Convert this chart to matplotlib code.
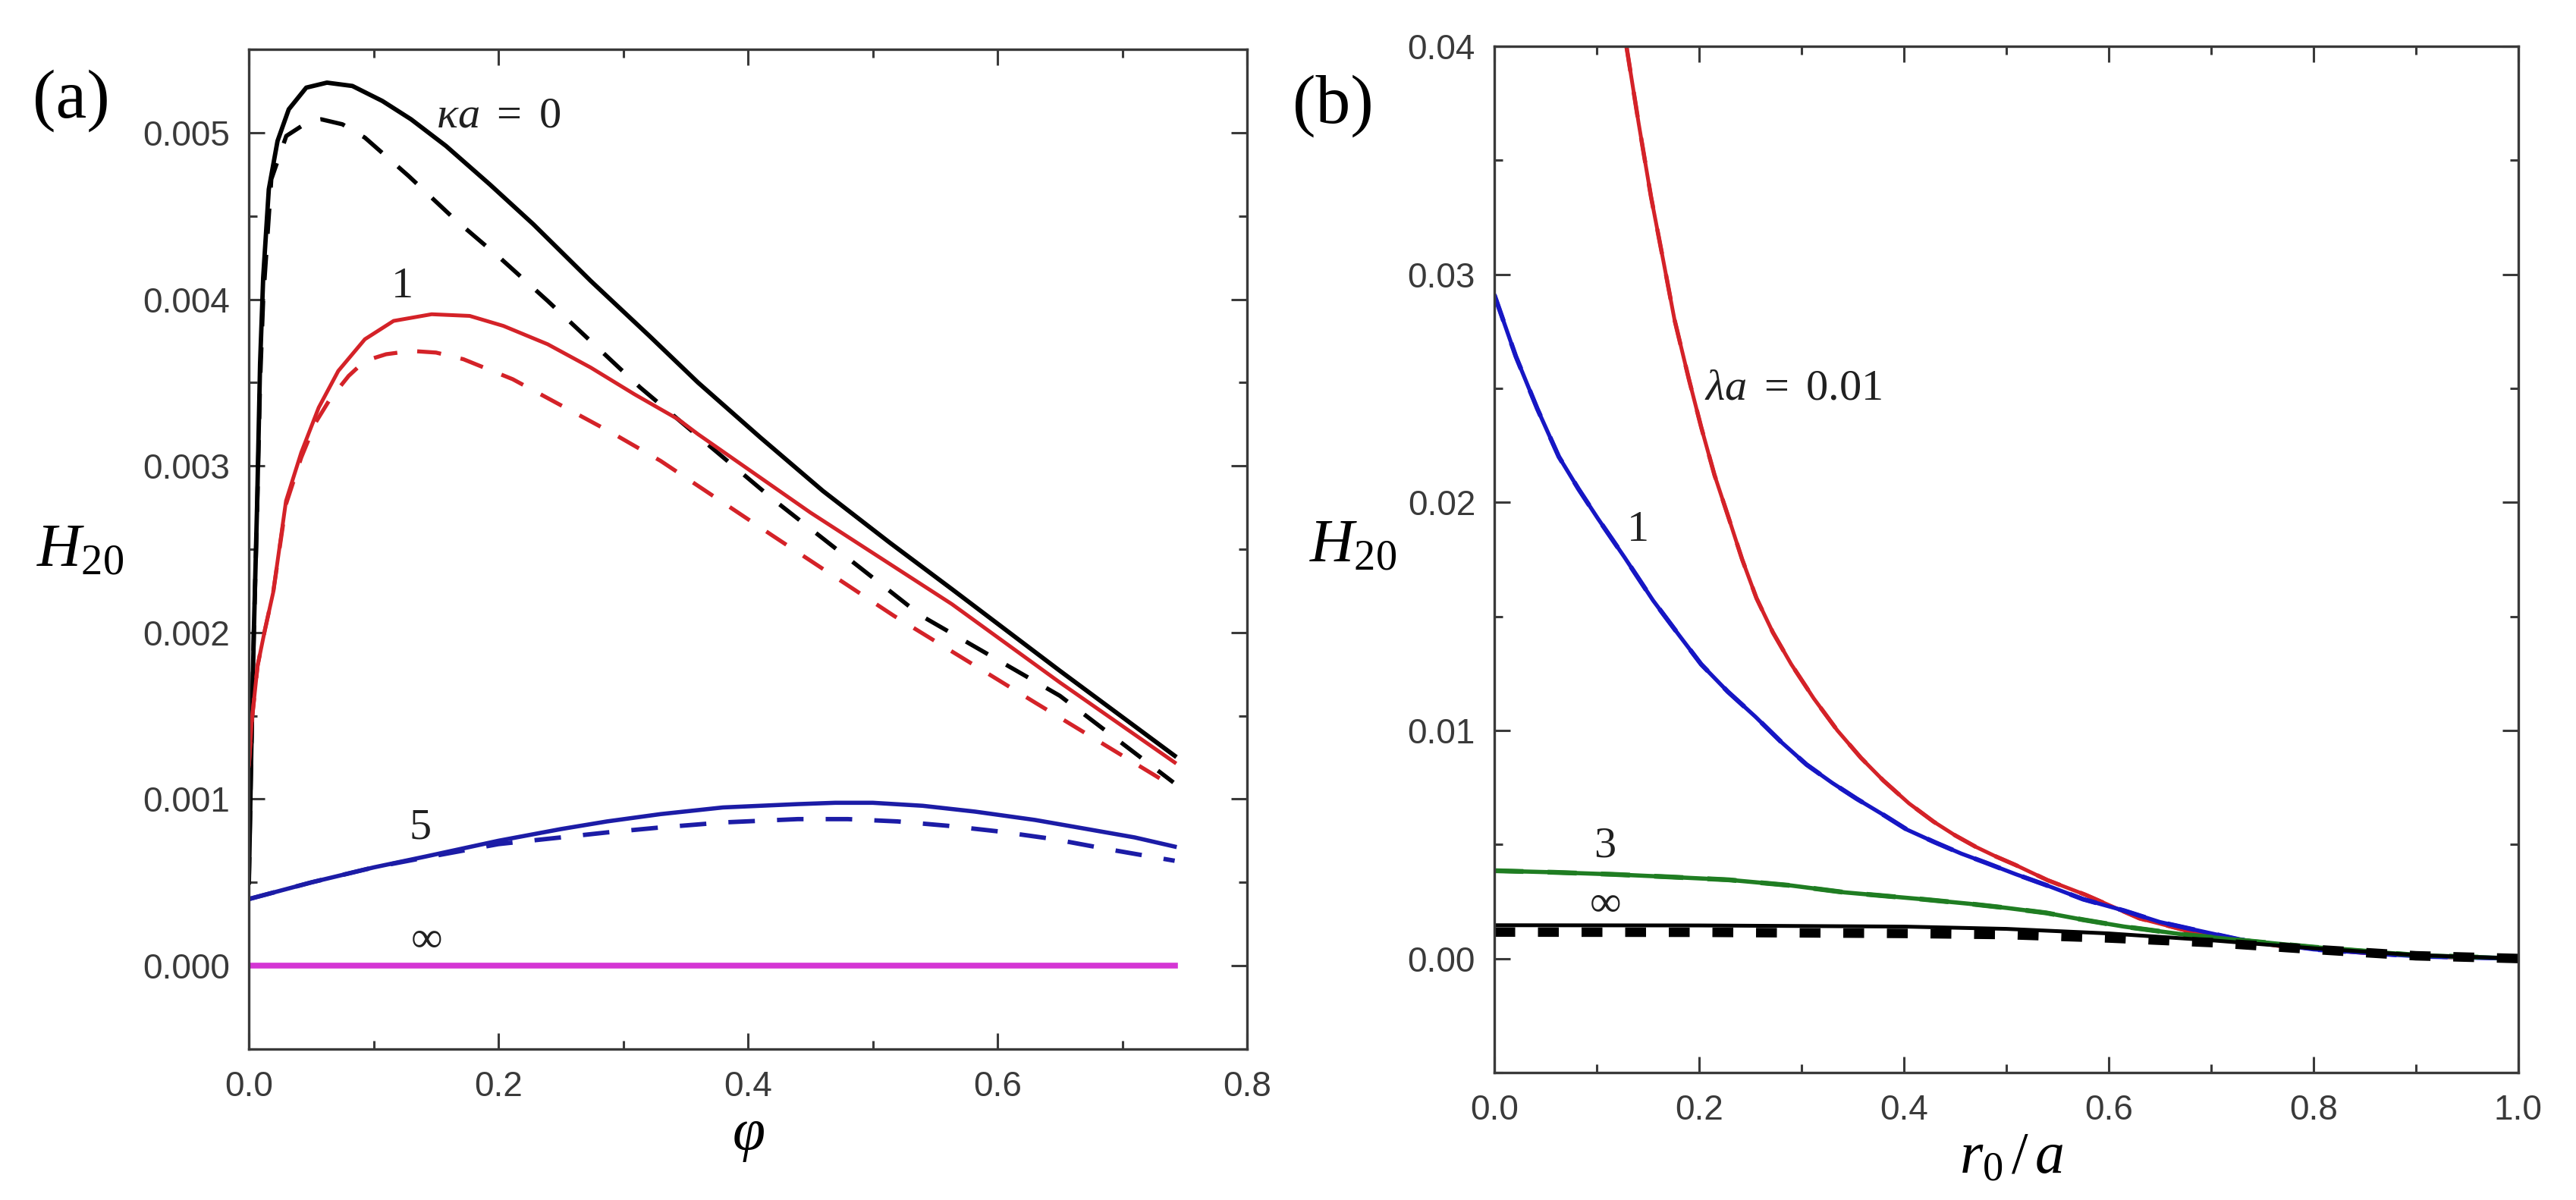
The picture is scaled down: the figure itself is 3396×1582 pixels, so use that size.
"""Two panels of H20: against volume fraction (a) and against r0/a (b)."""

import matplotlib

matplotlib.use("Agg")
import matplotlib.pyplot as plt
from matplotlib.ticker import FormatStrFormatter, MultipleLocator

plt.rcParams["font.family"] = ["Liberation Sans", "DejaVu Sans"]
plt.rcParams["mathtext.fontset"] = "custom"
plt.rcParams["mathtext.rm"] = "Liberation Serif"
plt.rcParams["mathtext.it"] = "Liberation Serif:italic"

# ---- panel (a): H20 vs phi, solid and dashed per kappa*a ----
PHI_K0 = [0, 0.002, 0.004, 0.0067, 0.009, 0.0115, 0.016, 0.023, 0.032, 0.046,
          0.0626, 0.083, 0.107, 0.13, 0.158, 0.193, 0.228, 0.274, 0.321, 0.36,
          0.41, 0.46, 0.5135, 0.5635, 0.65, 0.742]
H_K0 = [0.0005, 0.0013, 0.002, 0.00279, 0.00361, 0.00413, 0.00466, 0.00495,
        0.00514, 0.00527, 0.0053, 0.00528, 0.00519, 0.00508, 0.00492, 0.00469,
        0.00445, 0.00411, 0.00378, 0.0035, 0.00317, 0.00285, 0.00254, 0.00226,
        0.00177, 0.00126]
PHI_K0_D = [0, 0.002, 0.004, 0.0067, 0.009, 0.0115, 0.018, 0.03, 0.0486, 0.058,
            0.075, 0.093, 0.128, 0.165, 0.2025, 0.2395, 0.2766, 0.3137, 0.42,
            0.539, 0.65, 0.741]
H_K0_D = [0.0005, 0.0013, 0.002, 0.00275, 0.0035, 0.004, 0.00472, 0.00498,
          0.00507, 0.00508, 0.00505, 0.00497, 0.00474, 0.00448, 0.00424, 0.00399,
          0.00373, 0.00347, 0.0028, 0.0021, 0.00162, 0.0011]

PHI_K1 = [0, 0.0024, 0.007, 0.013, 0.0195, 0.0298, 0.042, 0.056, 0.0717, 0.093,
          0.116, 0.1465, 0.177, 0.204, 0.2395, 0.274, 0.309, 0.344, 0.36, 0.45,
          0.5635, 0.65, 0.742]
H_K1 = [0.0012, 0.00147, 0.0018, 0.00202, 0.00224, 0.00279, 0.00308, 0.00335,
        0.00357, 0.00376, 0.00387, 0.00391, 0.0039, 0.00384, 0.00373, 0.00359,
        0.00343, 0.00328, 0.00319, 0.00272, 0.00217, 0.0017, 0.00122]
PHI_K1_D = [0, 0.0024, 0.007, 0.013, 0.0195, 0.0298, 0.042, 0.0535, 0.065, 0.08,
            0.093, 0.11, 0.13, 0.15, 0.172, 0.2115, 0.251, 0.2906, 0.33, 0.42,
            0.517, 0.63, 0.742]
H_K1_D = [0.0012, 0.00147, 0.0018, 0.00202, 0.00224, 0.00277, 0.00305, 0.00326,
          0.0034, 0.00354, 0.00363, 0.00367, 0.00369, 0.00368, 0.00364, 0.00352,
          0.00336, 0.0032, 0.00303, 0.00258, 0.0021, 0.00158, 0.00107]

PHI_K5 = [0, 0.05, 0.1, 0.142, 0.2, 0.25, 0.287, 0.33, 0.38, 0.44, 0.47, 0.5,
          0.54, 0.582, 0.63, 0.672, 0.71, 0.742]
H_K5 = [0.0004, 0.0005, 0.00059, 0.000656, 0.00075, 0.00082, 0.000866, 0.00091,
        0.00095, 0.00097, 0.000978, 0.000978, 0.00096, 0.000925, 0.000875,
        0.00082, 0.00077, 0.000715]
PHI_K5_D = [0, 0.05, 0.1, 0.142, 0.2, 0.25, 0.287, 0.33, 0.38, 0.44, 0.48, 0.52,
            0.56, 0.601, 0.645, 0.688, 0.742]
H_K5_D = [0.0004, 0.0005, 0.00059, 0.00065, 0.00073, 0.00077, 0.0008, 0.00083,
          0.00086, 0.00088, 0.00088, 0.000866, 0.00084, 0.000806, 0.00076,
          0.0007, 0.00063]

PHI_KINF = [0, 0.742]
H_KINF = [0.0, 0.0]

# ---- panel (b): H20 vs r0/a per lambda*a ----
R_L001 = [0.129, 0.141, 0.153, 0.165, 0.176, 0.19, 0.202, 0.215, 0.229, 0.242,
          0.256, 0.272, 0.29, 0.312, 0.335, 0.358, 0.38, 0.405, 0.429, 0.45,
          0.47, 0.49, 0.509, 0.54, 0.577, 0.63, 0.69, 0.766, 0.85, 0.92, 1.0]
H_L001 = [0.040, 0.0366, 0.0334, 0.0306, 0.0280, 0.0254, 0.0233, 0.0212, 0.0193,
          0.0175, 0.0158, 0.0143, 0.0129, 0.0114, 0.0100, 0.0088, 0.0078, 0.0068,
          0.0060, 0.0054, 0.0049, 0.00447, 0.0041, 0.00344, 0.0028, 0.00176,
          0.00106, 0.00056, 0.00025, 0.00008, 0.0]

R_L1 = [0, 0.021, 0.042, 0.063, 0.082, 0.101, 0.127, 0.155, 0.18, 0.202, 0.228,
        0.255, 0.28, 0.305, 0.33, 0.354, 0.38, 0.403, 0.43, 0.456, 0.48, 0.509,
        0.54, 0.575, 0.615, 0.65, 0.68, 0.728, 0.8, 0.9, 1.0]
H_L1 = [0.0291, 0.0264, 0.0241, 0.0220, 0.0206, 0.0193, 0.0176, 0.0157, 0.0142,
        0.0129, 0.0117, 0.0106, 0.0095, 0.0085, 0.0077, 0.0070, 0.0063, 0.00565,
        0.0051, 0.0046, 0.0042, 0.0037, 0.0032, 0.0026, 0.0021, 0.0016, 0.0013,
        0.00083, 0.0004, 0.0001, 0.0]

R_L3 = [0, 0.058, 0.116, 0.17, 0.229, 0.29, 0.342, 0.38, 0.418, 0.464, 0.5,
        0.539, 0.575, 0.615, 0.672, 0.73, 0.8, 0.9, 1.0]
H_L3 = [0.00385, 0.00378, 0.00369, 0.00358, 0.00345, 0.0032, 0.0029, 0.00275,
        0.0026, 0.0024, 0.00222, 0.002, 0.0017, 0.0014, 0.00106, 0.0008, 0.0005,
        0.00015, 0.0]

R_LINF = [0, 0.2, 0.4, 0.5, 0.6, 0.7, 0.8, 0.9, 1.0]
H_LINF = [0.00146, 0.00145, 0.0014, 0.0013, 0.0011, 0.0008, 0.00045, 0.00015, 0.0]
H_LINF_D = [0.00116, 0.00115, 0.0011, 0.00105, 0.0009, 0.0007, 0.0004, 0.00012, 0.0]

GREY = "#3a3a3a"
RED = "#d42228"
BLUE_A = "#1c1ca6"
BLUE_B = "#1616c4"
GREEN = "#1f7d22"
MAGENTA = "#d436d4"
DASH = (6, 5)


def style_axes(ax, xmaj, xmin, ymaj, ymin, yfmt):
    ax.xaxis.set_major_locator(MultipleLocator(xmaj))
    ax.xaxis.set_minor_locator(MultipleLocator(xmin))
    ax.yaxis.set_major_locator(MultipleLocator(ymaj))
    ax.yaxis.set_minor_locator(MultipleLocator(ymin))
    ax.xaxis.set_major_formatter(FormatStrFormatter("%.1f"))
    ax.yaxis.set_major_formatter(FormatStrFormatter(yfmt))
    ax.tick_params(which="both", direction="in", top=True, right=True,
                   color=GREY, width=2.2)
    ax.tick_params(which="major", length=15, labelsize=33, labelcolor=GREY)
    ax.tick_params(which="minor", length=8)
    ax.tick_params(axis="y", pad=18)
    ax.tick_params(axis="x", pad=20)
    for sp in ax.spines.values():
        sp.set_color(GREY)
        sp.set_linewidth(2.4)


def main():
    fig = plt.figure(figsize=(33.96, 15.82), dpi=100)
    ax1 = fig.add_axes([0.0966, 0.1258, 0.3875, 0.8331])
    ax2 = fig.add_axes([0.5801, 0.1062, 0.3975, 0.8553])

    # (a)
    ax1.plot(PHI_K0, H_K0, color="black", lw=4.2)
    ax1.plot(PHI_K0_D, H_K0_D, color="black", lw=4.0, ls="--", dashes=DASH)
    ax1.plot(PHI_K1, H_K1, color=RED, lw=3.6)
    ax1.plot(PHI_K1_D, H_K1_D, color=RED, lw=3.8, ls="--", dashes=DASH)
    ax1.plot(PHI_K5, H_K5, color=BLUE_A, lw=4.0)
    ax1.plot(PHI_K5_D, H_K5_D, color=BLUE_A, lw=4.2, ls="--", dashes=DASH)
    ax1.plot(PHI_KINF, H_KINF, color=MAGENTA, lw=5.5)
    ax1.set_xlim(0, 0.8)
    ax1.set_ylim(-0.0005, 0.0055)
    style_axes(ax1, 0.2, 0.1, 0.001, 0.0005, "%.3f")

    ann = dict(ha="center", va="center", fontsize=42, color="#202020")
    ax1.text(0.2, 0.0051, r"$\kappa a\ =\ 0$", **ann)
    ax1.text(0.122, 0.00408, "$1$", **ann)
    ax1.text(0.137, 0.00083, "$5$", **ann)
    ax1.text(0.142, 0.00016, r"$\infty$", **ann)

    ax1.set_xlabel(r"$\varphi$", fontsize=56, va="center")
    ax1.xaxis.set_label_coords(0.5, -0.087)
    ax1.set_ylabel(r"$H_{20}$", fontsize=58, rotation=0, ha="center", va="center")
    ax1.yaxis.set_label_coords(-0.169, 0.499)

    # (b)
    ax2.plot(R_L001, H_L001, color=RED, lw=3.6)
    ax2.plot(R_L001, H_L001, color=RED, lw=4.0, ls="--", dashes=DASH)
    ax2.plot(R_L1, H_L1, color=BLUE_B, lw=3.8)
    ax2.plot(R_L1, H_L1, color=BLUE_B, lw=4.4, ls="--", dashes=DASH)
    ax2.plot(R_L3, H_L3, color=GREEN, lw=4.0)
    ax2.plot(R_L3, H_L3, color=GREEN, lw=4.6, ls="--", dashes=DASH)
    ax2.plot(R_LINF, H_LINF, color="black", lw=3.6)
    ax2.plot(R_LINF, H_LINF_D, color="black", lw=9, ls="--", dashes=(2.2, 2.4))
    ax2.set_xlim(0, 1.0)
    ax2.set_ylim(-0.005, 0.04)
    style_axes(ax2, 0.2, 0.1, 0.01, 0.005, "%.2f")

    ax2.text(0.205, 0.025, r"$\lambda a\ =\ 0.01$", fontsize=42, ha="left",
             va="center", color="#202020")
    ax2.text(0.139, 0.0188, "$1$", **ann)
    ax2.text(0.108, 0.00495, "$3$", **ann)
    ax2.text(0.108, 0.0024, r"$\infty$", **ann)

    ax2.set_xlabel(r"$r_0\,/\,a$", fontsize=56, va="center")
    ax2.xaxis.set_label_coords(0.505, -0.082)
    ax2.set_ylabel(r"$H_{20}$", fontsize=58, rotation=0, ha="center", va="center")
    ax2.yaxis.set_label_coords(-0.138, 0.513)

    fig.text(0.0277, 0.916, "(a)", fontsize=66, family="Liberation Serif",
             ha="center", va="center")
    fig.text(0.5174, 0.9115, "(b)", fontsize=66, family="Liberation Serif",
             ha="center", va="center")

    fig.savefig("out.png", dpi=100)


if __name__ == "__main__":
    main()
